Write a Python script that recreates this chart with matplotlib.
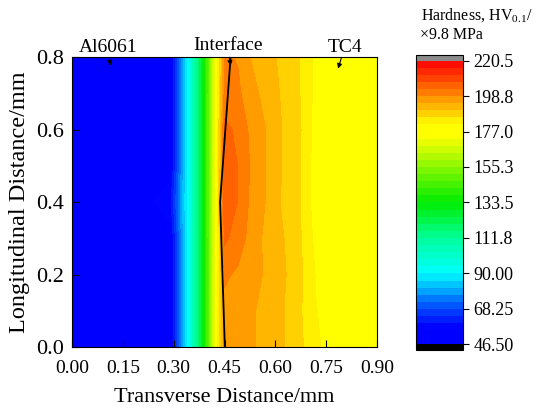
import numpy as np
import matplotlib
matplotlib.use("Agg")
from matplotlib import pyplot as plt
from matplotlib.colors import LinearSegmentedColormap

plt.rcParams['font.family'] = ['Liberation Serif', 'DejaVu Serif']
plt.rcParams['mathtext.fontset'] = 'custom'
plt.rcParams['mathtext.rm'] = 'Liberation Serif'

# measurement grid (mm) and hardness values (HV0.1)
x_pos = [0.00, 0.15, 0.29, 0.34, 0.39, 0.43, 0.45, 0.49, 0.53, 0.57, 0.62, 0.67, 0.72, 0.80, 0.90]
y_pos = [0.0, 0.1, 0.2, 0.3, 0.4, 0.5, 0.6, 0.7, 0.8]
hardness = [
    [50, 50, 52, 90, 133, 181, 197.0, 196.0, 195.0, 193.0, 190.5, 187.0, 182.0, 178.5, 178],
    [50, 50, 52, 90, 133, 181, 197.5, 196.5, 195.0, 193.0, 190.5, 186.5, 181.5, 178.0, 178],
    [50, 50, 52, 90, 133, 181, 199.5, 198.0, 196.0, 194.0, 191.0, 187.0, 181.0, 178.0, 178],
    [50, 50, 53, 90, 133, 181, 204.0, 201.0, 197.0, 193.5, 190.5, 186.5, 180.0, 178.0, 178],
    [50, 50, 58, 90, 133, 182, 206.5, 202.9, 197.5, 194.4, 189.5, 186.3, 179.0, 178.0, 178],
    [50, 50, 53, 90, 133, 182, 206.0, 203.0, 198.0, 194.6, 190.0, 186.5, 179.0, 178.0, 178],
    [50, 50, 52, 90, 133, 182, 204.5, 202.0, 197.5, 194.5, 190.0, 186.5, 179.5, 178.0, 178],
    [50, 50, 52, 90, 133, 181, 200.0, 199.5, 196.0, 193.0, 189.5, 186.0, 180.0, 178.0, 178],
    [50, 50, 52, 90, 133, 181, 199.5, 198.4, 194.0, 192.0, 189.0, 186.0, 180.0, 178.0, 178],
]

# interface line
iface_x = [0.451, 0.437, 0.468]
iface_y = [0.0, 0.4, 0.8]

cbar_ticks = [46.5, 68.25, 90.0, 111.8, 133.5, 155.3, 177.0, 198.8, 220.5]
cbar_labels = ["46.50", "68.25", "90.00", "111.8", "133.5", "155.3", "177.0", "198.8", "220.5"]

cmap = LinearSegmentedColormap.from_list(
    "hv", [(0.0, (0, 0, 1)), (0.06, (0, 0, 1)), (0.14, (0, 0.35, 1)), (0.25, (0, 1, 1)),
           (0.375, (0, 1, 0.6)), (0.5, (0, 0.93, 0)), (0.735, (1, 1, 0)), (0.775, (1, 1, 0)),
           (1.0, (1, 0, 0))])
cmap.set_over((0.55, 0.55, 0.55))
cmap.set_under((0, 0, 0))

fig = plt.figure(figsize=(5.38, 4.11), dpi=100)
ax = fig.add_axes([0.1338, 0.1557, 0.567, 0.7056])
cax = fig.add_axes([0.7732, 0.1484, 0.0874, 0.7178])

levels = np.linspace(46.5, 220.5, 41)
X, Y = np.meshgrid(x_pos, y_pos)
cf = ax.contourf(X, Y, np.array(hardness), levels=levels, cmap=cmap, extend='both')
ax.plot(iface_x, iface_y, color='black', lw=1.3)

ax.set_xlim(0, 0.9)
ax.set_ylim(0, 0.8)
ax.set_xticks(np.arange(0, 0.91, 0.15))
ax.set_xticklabels(["%.2f" % v for v in np.arange(0, 0.91, 0.15)])
ax.set_yticks(np.arange(0, 0.81, 0.2))
ax.set_yticklabels(["%.1f" % v for v in np.arange(0, 0.81, 0.2)])
ax.tick_params(direction='in', length=5, top=False, right=False)
ax.tick_params(axis='x', labelsize=14, pad=9)
ax.tick_params(axis='y', labelsize=16, pad=6)
ax.set_xlabel("Transverse Distance/mm", fontsize=16, labelpad=8)
ax.set_ylabel("Longitudinal Distance/mm", fontsize=17.5, labelpad=4)

arrow = dict(arrowstyle='-|>', color='black', lw=0.8, mutation_scale=7, shrinkA=0, shrinkB=0)
ax.annotate("Al6061", xy=(0.113, 0.776), xytext=(0.108, 0.815), fontsize=14,
            ha='center', va='baseline', arrowprops=arrow, annotation_clip=False)
ax.annotate("Interface", xy=(0.468, 0.776), xytext=(0.46, 0.818), fontsize=14,
            ha='center', va='baseline', arrowprops=arrow, annotation_clip=False)
ax.annotate("TC4", xy=(0.785, 0.768), xytext=(0.805, 0.815), fontsize=14,
            ha='center', va='baseline', arrowprops=arrow, annotation_clip=False)

cb = fig.colorbar(cf, cax=cax, extendrect=True, extendfrac=0.02)
cb.set_ticks(cbar_ticks)
cb.set_ticklabels(cbar_labels)
cb.ax.tick_params(labelsize=13, length=4, direction='out')
cb.outline.set_linewidth(0.8)

fig.text(0.783, 0.962, "Hardness, HV$_{0.1}$/", fontsize=11.5, ha='left', va='center')
fig.text(0.78, 0.915, "×9.8 MPa", fontsize=11.5, ha='left', va='center')

fig.savefig("out.png", dpi=100)
